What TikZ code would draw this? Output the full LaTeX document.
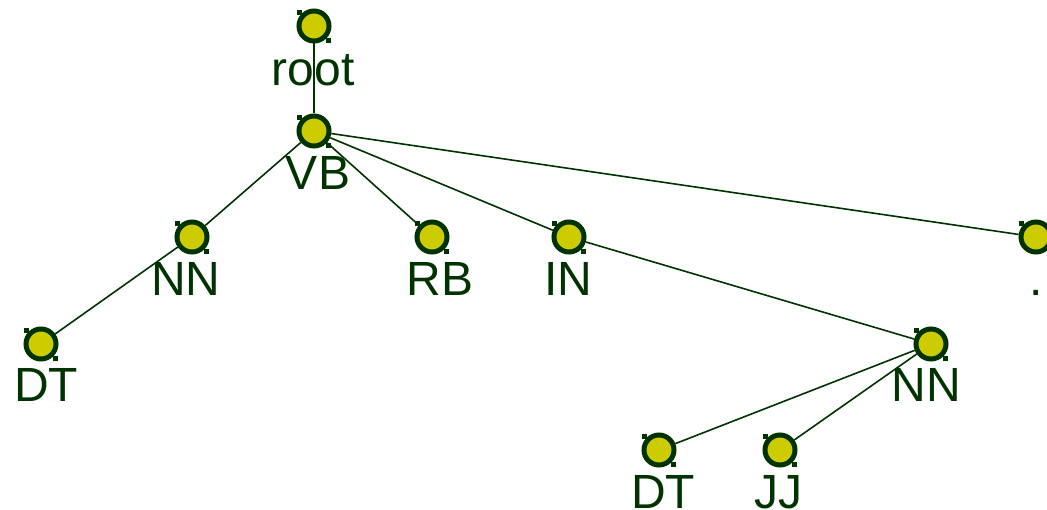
\documentclass[tikz,border=0pt]{standalone}
\usepackage{fontspec}
\setmainfont{Liberation Sans}
\definecolor{tok}{RGB}{204,204,0}
\definecolor{ink}{RGB}{0,51,0}
\tikzset{
  tag/.style={circle, draw=ink, fill=tok, line width=5pt, minimum size=30pt, inner sep=0pt},
  lbl/.style={text=ink, font=\fontsize{48}{48}\selectfont, inner sep=0pt, anchor=base},
  link/.style={draw=ink, line width=1.6pt},
  handle/.style={fill=ink, draw=none}
}
\newcommand{\handles}[1]{%
  \fill[handle] ($(#1)+(-17,-16)$) rectangle ++(5,5);
  \fill[handle] ($(#1)+(12,12)$) rectangle ++(5,5);
}
\usetikzlibrary{calc}
\begin{document}
\begin{tikzpicture}[x=1pt,y=-1pt]
\useasboundingbox (0,0) rectangle (1047,510);
% tree nodes
\node[tag] (root) at (314,26) {};
\node[tag] (vb)   at (314,131) {};
\node[tag] (nn)   at (192,237) {};
\node[tag] (rb)   at (432,237) {};
\node[tag] (in)   at (569,237) {};
\node[tag] (pt)   at (1036,237) {};
\node[tag] (dt)   at (41,344) {};
\node[tag] (nnb)  at (931,344) {};
\node[tag] (dtb)  at (659,450) {};
\node[tag] (jj)   at (780,450) {};
% corner handles
\foreach \n in {root,vb,nn,rb,in,pt,dt,nnb,dtb,jj}{\handles{\n}}
% labels
\node[lbl] (lroot) at (313,86) {root};
\node[lbl] (lvb)   at (318,190) {VB};
\node[lbl] (lnn)   at (186,296) {NN};
\node[lbl] (lrb)   at (440,296) {RB};
\node[lbl] (lin)   at (568,296) {IN};
\node[lbl] (lpt)   at (1036,296) {.};
\node[lbl] (ldt)   at (46,402) {DT};
\node[lbl] (lnnb)  at (926,402) {NN};
\node[lbl] (ldtb)  at (663,508) {DT};
\node[lbl] (ljj)   at (778,508) {JJ};
% edges
\draw[link] (root) -- (vb);
\draw[link] (vb) -- (nn);
\draw[link] (vb) -- (rb);
\draw[link] (vb) -- (in);
\draw[link] (vb) -- (pt);
\draw[link] (nn) -- (dt);
\draw[link] (in) -- (nnb);
\draw[link] (nnb) -- (dtb);
\draw[link] (nnb) -- (jj);
\end{tikzpicture}
\end{document}
